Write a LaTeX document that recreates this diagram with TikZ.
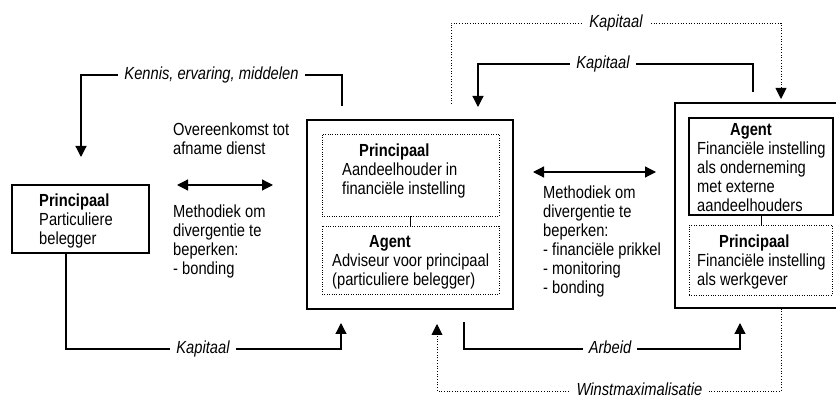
\documentclass[tikz,border=0pt]{standalone}
\usepackage{fontspec}
\setmainfont{Liberation Sans}[FakeStretch=0.84]
\usetikzlibrary{arrows.meta}
\newcommand{\lines}[1]{\begin{tabular}[t]{@{}l@{}}#1\end{tabular}}
\begin{document}
\begin{tikzpicture}[x=1pt,y=-1pt,
  txt/.style={font=\fontsize{17.5}{19}\selectfont, inner sep=0pt, anchor=base west},
  lab/.style={font=\fontsize{17.5}{19}\selectfont\itshape, fill=white, inner xsep=6pt, inner ysep=0pt, text height=12.5pt, text depth=3.5pt},
  box/.style={draw, line width=1.3pt, inner sep=0pt},
  dbox/.style={draw, line width=0.8pt, dash pattern=on 0.8pt off 1.6pt, inner sep=0pt},
  conn/.style={line width=1.2pt},
  dconn/.style={line width=0.9pt, dash pattern=on 0.9pt off 1.8pt},
  tip/.style={-{Triangle[length=11pt,width=11pt]}},
  dtip/.style={{Triangle[length=11pt,width=11pt]}-{Triangle[length=11pt,width=11pt]}},
]
\useasboundingbox (0,0) rectangle (836,398);

% boxes
\node[box, minimum width=137pt, minimum height=68pt] (L) at (80.5,219) {};
\node[box, minimum width=206pt, minimum height=189pt] (M) at (410,214.5) {};
\node[dbox, minimum width=177pt, minimum height=82pt] (MP) at (410.5,175) {};
\node[dbox, minimum width=177pt, minimum height=68pt] (MA) at (410.5,260) {};
\node[box, minimum width=164pt, minimum height=205pt] (R) at (757,205.5) {};
\node[box, minimum width=144pt, minimum height=97pt] (RA) at (761,166.5) {};
\node[dbox, minimum width=143pt, minimum height=70pt] (RP) at (760.5,260) {};

\draw[line width=1pt] (MP.south) -- (MA.north);
\draw[line width=1pt] (RA.south) -- (RA.south |- RP.north);

% texts
\node[txt] (tL) at (39,207) {\lines{\textbf{Principaal}\\Particuliere\\belegger}};
\node[txt] (tMP) at (342,157) {\lines{\hspace*{17pt}\textbf{Principaal}\\Aandeelhouder in\\financiële instelling}};
\node[txt] (tMA) at (332,248) {\lines{\hspace*{37pt}\textbf{Agent}\\Adviseur voor principaal\\(particuliere belegger)}};
\node[txt] (tRA) at (697,136) {\lines{\hspace*{33pt}\textbf{Agent}\\Financiële instelling\\als onderneming\\met externe\\aandeelhouders}};
\node[txt] (tRP) at (697,248) {\lines{\hspace*{22pt}\textbf{Principaal}\\Financiële instelling\\als werkgever}};
\node[txt] (tO) at (173,136) {\lines{Overeenkomst tot\\afname dienst}};
\node[txt] (tM1) at (173,218) {\lines{Methodiek om\\divergentie te\\beperken:\\- bonding}};
\node[txt] (tM2) at (543,199) {\lines{Methodiek om\\divergentie te\\beperken:\\- financiële prikkel\\- monitoring\\- bonding}};

% double arrows
\coordinate (a1) at (177,185);
\coordinate (a2) at (273,185);
\draw[conn,dtip] (a1) -- (a2);
\coordinate (b1) at (533,172);
\coordinate (b2) at (656,172);
\draw[conn,dtip] (b1) -- (b2);

% connectors
\coordinate (k0) at (342,106);
\coordinate (k1) at (81,157);
\draw[conn,tip] (k0) -- (342,75) -- (81,75) -- (k1);
\node[lab] (kl) at (211.5,75) {Kennis, ervaring, middelen};

\coordinate (c0) at (753,92);
\coordinate (c1) at (478,107);
\draw[conn,tip] (c0) -- (753,64) -- (478,64) -- (c1);
\node[lab] (cl) at (603,64) {Kapitaal};

\coordinate (d0) at (451,104);
\coordinate (d1) at (781,99);
\draw[dconn,tip] (d0) -- (451,23) -- (781,23) -- (d1);
\node[lab] (dl) at (616,23) {Kapitaal};

\coordinate (e1) at (341,323);
\draw[conn,tip] (L.south -| 66,0) -- (66,349) -- (341,349) -- (e1);
\node[lab] (el) at (203,349) {Kapitaal};

\coordinate (f0) at (464,322);
\coordinate (f1) at (740,323);
\draw[conn,tip] (f0) -- (464,349) -- (740,349) -- (f1);
\node[lab] (fl) at (610,349) {Arbeid};

\coordinate (g1) at (437,324);
\draw[dconn,tip] (R.south -| 781,0) -- (781,391) -- (437,391) -- (g1);
\node[lab] (gl) at (639.5,391) {Winstmaximalisatie};
\end{tikzpicture}
\end{document}
